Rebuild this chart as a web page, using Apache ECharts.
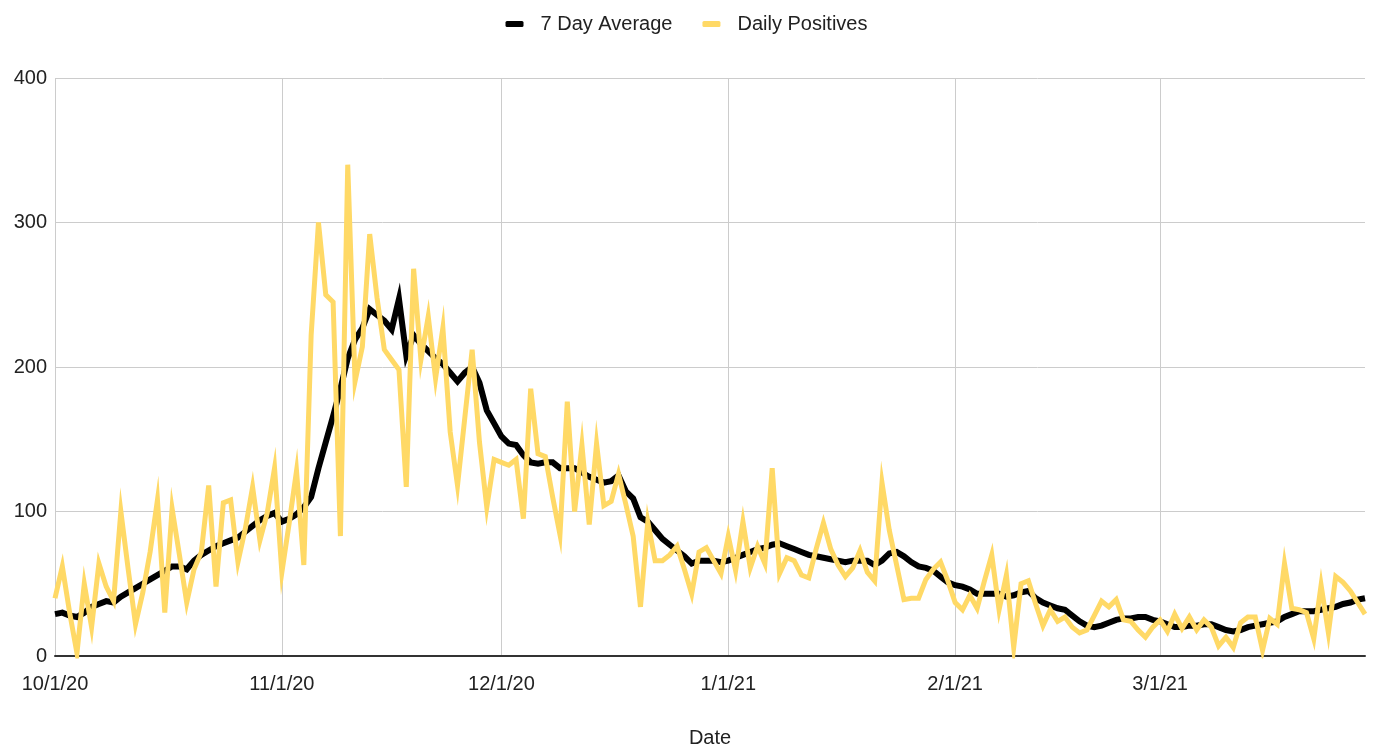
<!DOCTYPE html>
<html>
<head>
<meta charset="utf-8">
<script src="https://cdn.jsdelivr.net/npm/echarts@6/dist/echarts.min.js"></script>
<style>
  html, body { margin: 0; padding: 0; background: #fff; }
  #chart { width: 1373px; height: 747px; }
</style>
</head>
<body>
<div id="chart"></div>
<script>
// daily values, 10/1/20 .. 3/29/21
var sevenDayAverage = [
  29, 30, 28, 27, 30, 34, 36, 38, 37, 41, 44, 47, 50, 53, 56, 59, 62, 62, 60, 66,
  70, 73, 76, 78, 80, 82, 86, 90, 94, 97, 99, 93, 95, 98, 103, 110, 130, 148, 166, 185,
  206, 219, 227, 240, 236, 232, 226, 247, 208, 222, 216, 211, 206, 202, 196, 190, 196, 200, 189, 170,
  161, 152, 147, 146, 139, 134, 133, 134, 134, 130, 130, 130, 127, 124, 122, 120, 121, 125, 114, 109,
  96, 93, 87, 81, 77, 73, 69, 64, 66, 66, 66, 65, 66, 68, 70, 72, 74, 75, 77, 78,
  76, 74, 72, 70, 69, 68, 67, 66, 65, 66, 66, 66, 63, 66, 71, 72, 69, 65, 62, 61,
  59, 55, 51, 49, 48, 46, 43, 43, 43, 43, 41, 42, 44, 45, 40, 37, 35, 33, 32, 28,
  24, 21, 20, 21, 23, 25, 26, 26, 27, 27, 25, 24, 22, 20, 20, 21, 21, 22, 22, 20,
  18, 17, 18, 20, 21, 22, 23, 24, 27, 29, 31, 31, 31, 32, 33, 34, 36, 37, 39, 40
];
var dailyPositives = [
  40, 62, 30, 2, 50, 20, 64, 48, 38, 100, 60, 22, 44, 72, 108, 30, 102, 70, 37, 60,
  72, 118, 48, 106, 108, 65, 88, 117, 80, 99, 130, 58, 92, 128, 63, 222, 300, 250, 245, 83,
  340, 190, 214, 292, 248, 212, 205, 198, 117, 268, 205, 235, 192, 227, 155, 118, 165, 212, 148, 103,
  136, 134, 132, 136, 95, 185, 140, 138, 110, 84, 176, 100, 146, 91, 147, 104, 107, 126, 105, 83,
  34, 93, 66, 66, 70, 76, 60, 43, 72, 75, 66, 57, 83, 59, 93, 61, 76, 64, 130, 57,
  68, 66, 56, 54, 74, 92, 74, 63, 55, 61, 73, 58, 52, 120, 87, 63, 39, 40, 40, 53,
  60, 65, 52, 37, 32, 42, 33, 52, 70, 32, 56, 6, 50, 52, 36, 21, 32, 24, 27, 20,
  16, 18, 28, 38, 34, 39, 25, 24, 18, 13, 20, 25, 17, 29, 19, 27, 18, 25, 20, 7,
  13, 6, 23, 27, 27, 4, 26, 22, 64, 33, 32, 30, 12, 49, 16, 55, 51, 45, 37, 29
];
var yTicks = [0, 100, 200, 300, 400];

// category labels m/d/yy, one per day
var dates = [];
var start = new Date(2020, 9, 1);
for (var i = 0; i < dailyPositives.length; i++) {
  var d = new Date(start.getFullYear(), start.getMonth(), start.getDate() + i);
  dates.push((d.getMonth() + 1) + '/' + d.getDate() + '/' + String(d.getFullYear()).slice(2));
}

function isMonthStart(idx, val) {
  return val.split('/')[1] === '1';
}

var font = 'Liberation Sans, Arial, sans-serif';
var chart = echarts.init(document.getElementById('chart'));
var option = {
  animation: false,
  textStyle: { fontFamily: font },
  legend: {
    top: 9,
    left: 'center',
    itemWidth: 18,
    itemHeight: 6,
    itemGap: 30,
    icon: 'roundRect',
    textStyle: { fontSize: 20, color: '#222', fontFamily: font, padding: [0, 0, 0, 12] },
    data: ['7 Day Average', 'Daily Positives']
  },
  grid: { left: 55, right: 8, top: 78, bottom: 91, containLabel: false, outerBoundsMode: 'none' },
  xAxis: {
    type: 'category',
    data: dates,
    boundaryGap: false,
    name: 'Date',
    nameLocation: 'middle',
    nameGap: 72,
    nameTextStyle: { fontSize: 20, color: '#222', fontFamily: font },
    axisLine: { lineStyle: { color: '#333', width: 2 } },
    axisTick: { show: false },
    axisLabel: { interval: isMonthStart, fontSize: 20, color: '#222', margin: 18, fontFamily: font },
    splitLine: { show: true, interval: isMonthStart, lineStyle: { color: '#cccccc', width: 1 } }
  },
  yAxis: {
    type: 'value',
    min: yTicks[0],
    max: yTicks[yTicks.length - 1],
    interval: 100,
    axisLine: { show: false },
    axisTick: { show: false },
    axisLabel: { fontSize: 20, color: '#222', margin: 8, fontFamily: font },
    splitLine: { lineStyle: { color: '#cccccc', width: 1 } }
  },
  series: [
    {
      name: '7 Day Average',
      type: 'line',
      data: sevenDayAverage,
      showSymbol: false,
      symbol: 'none',
      itemStyle: { color: '#000000' },
      lineStyle: { color: '#000000', width: 6, join: 'miter' }
    },
    {
      name: 'Daily Positives',
      type: 'line',
      data: dailyPositives,
      showSymbol: false,
      symbol: 'none',
      itemStyle: { color: '#ffd966' },
      lineStyle: { color: '#ffd966', width: 5, join: 'miter' }
    }
  ]
};
chart.setOption(option);
</script>
</body>
</html>
